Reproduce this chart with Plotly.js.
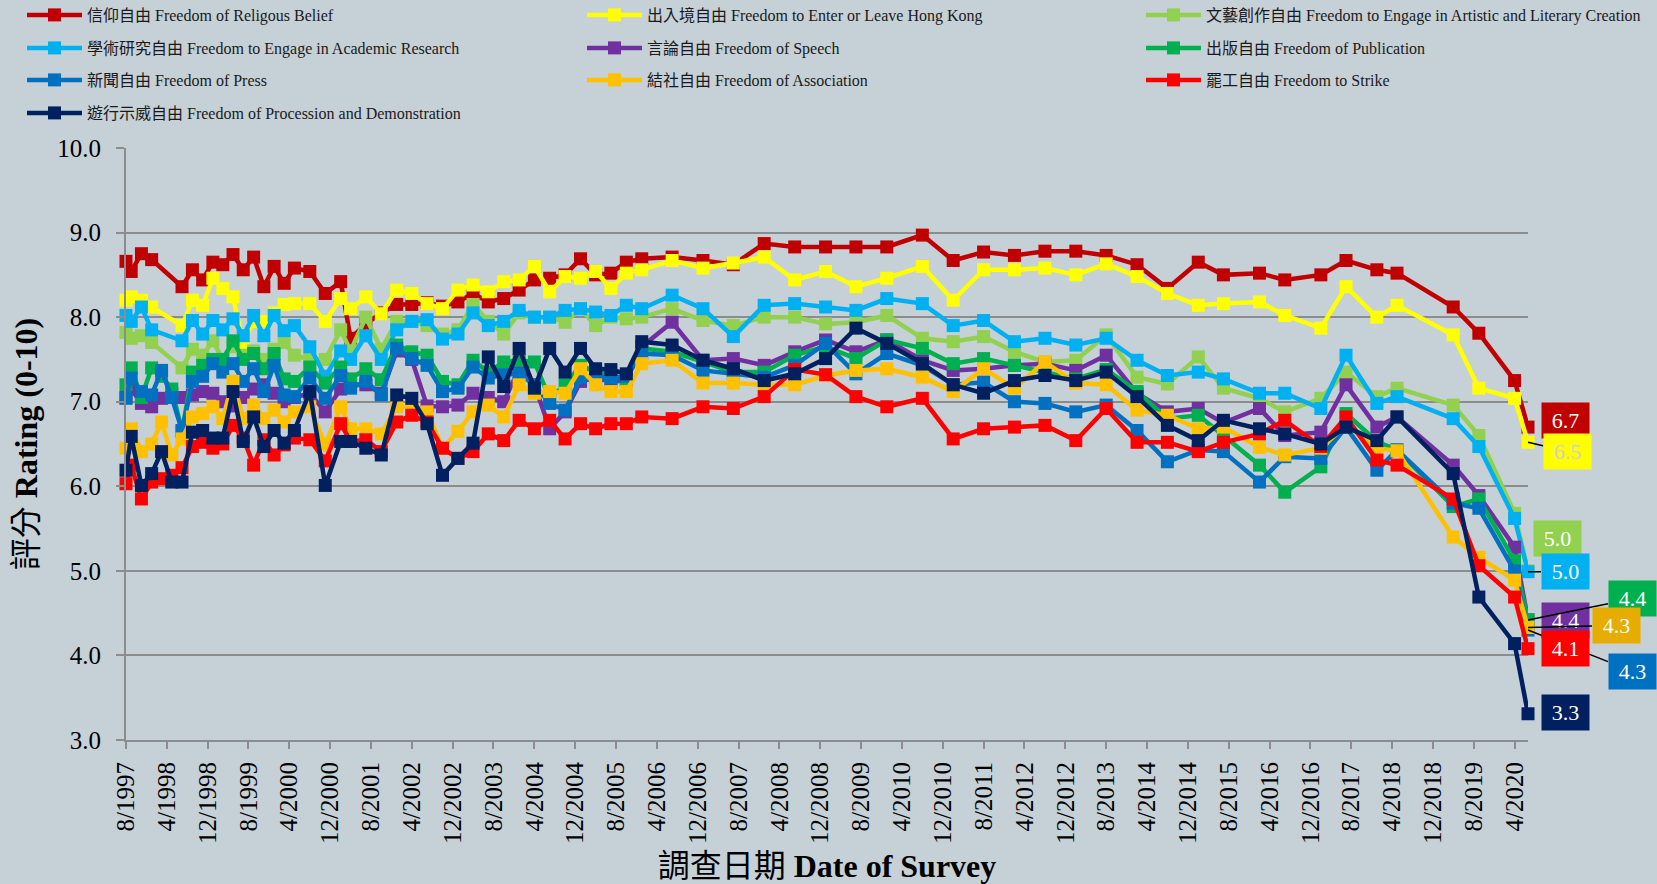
<!DOCTYPE html>
<html><head><meta charset="utf-8">
<script src="https://cdn.plot.ly/plotly-3.0.1.min.js"></script>
<style>html,body{margin:0;padding:0;background:#C6D0D7;} #chart{width:1657px;height:884px;}</style>
</head><body><div id="chart"></div>
<script>
const surveyDates = ['1997-08','1997-09','1997-11','1998-01','1998-03','1998-05','1998-07','1998-09','1998-11','1999-01','1999-03','1999-05','1999-07','1999-09','1999-11','2000-01','2000-03','2000-05','2000-08','2000-11','2001-02','2001-04','2001-07','2001-10','2002-01','2002-04','2002-07','2002-10','2003-01','2003-04','2003-07','2003-10','2004-01','2004-04','2004-07','2004-10','2005-01','2005-04','2005-07','2005-10','2006-01','2006-07','2007-01','2007-07','2008-01','2008-07','2009-01','2009-07','2010-01','2010-08','2011-02','2011-08','2012-02','2012-08','2013-02','2013-08','2014-02','2014-08','2015-02','2015-07','2016-02','2016-07','2017-02','2017-07','2018-01','2018-05','2019-04','2019-09','2020-04','2020-06-20'];

const religious   = [8.66,8.54,8.75,8.68,null,null,8.36,8.56,8.44,8.65,8.62,8.74,8.56,8.71,8.36,8.6,8.4,8.58,8.54,8.28,8.42,7.75,7.92,8.05,8.15,8.15,8.17,8.13,8.18,8.28,8.18,8.22,8.32,8.44,8.46,8.5,8.69,8.5,8.52,8.65,8.69,8.71,8.67,8.62,8.87,8.83,8.83,8.83,8.83,8.97,8.67,8.77,8.73,8.78,8.78,8.73,8.62,8.34,8.65,8.5,8.52,8.44,8.5,8.67,8.56,8.52,8.12,7.81,7.25,6.7];
const enterLeave  = [8.2,8.24,8.2,8.12,null,null,7.9,8.2,8.14,8.46,8.34,8.24,7.7,7.95,7.95,8.05,8.15,8.16,8.16,7.95,8.22,8.1,8.24,8.04,8.32,8.28,8.16,8.1,8.32,8.38,8.3,8.42,8.44,8.6,8.3,8.48,8.46,8.54,8.34,8.52,8.56,8.67,8.58,8.64,8.71,8.44,8.54,8.36,8.46,8.6,8.2,8.56,8.56,8.58,8.5,8.63,8.48,8.28,8.14,8.16,8.18,8.02,7.87,8.36,8.0,8.14,7.79,7.16,7.04,6.52];
const artistic    = [7.82,7.75,7.78,7.7,null,null,7.4,7.62,7.55,7.72,7.5,7.65,7.55,7.6,7.5,7.62,7.7,7.55,7.5,7.5,7.85,7.6,8.0,7.62,7.95,7.95,7.9,7.8,7.85,8.15,7.95,7.8,8.05,8.0,8.0,7.94,8.1,7.9,8.0,7.98,8.0,8.1,7.96,7.9,8.0,8.0,7.92,7.94,8.02,7.75,7.71,7.77,7.59,7.47,7.49,7.79,7.29,7.21,7.53,7.16,7.04,6.88,7.04,7.35,7.06,7.16,6.96,6.6,5.68,5.0];
const academic    = [8.02,7.95,8.12,7.85,null,null,7.72,7.96,7.8,7.96,7.85,7.98,7.78,8.02,7.78,8.02,7.84,7.9,7.65,7.3,7.6,7.5,7.78,7.5,7.85,7.95,7.97,7.74,7.8,8.05,7.9,7.95,8.08,8.0,8.0,8.08,8.1,8.06,8.02,8.14,8.1,8.26,8.1,7.77,8.14,8.16,8.12,8.08,8.22,8.16,7.9,7.96,7.71,7.75,7.67,7.75,7.49,7.31,7.35,7.27,7.1,7.1,6.92,7.55,6.98,7.06,6.8,6.47,5.62,4.99];
const speech      = [7.05,7.15,6.98,6.94,7.04,7.1,7.05,7.08,7.12,7.1,7.0,6.95,7.05,7.15,7.2,7.1,7.0,7.05,7.1,6.88,7.15,7.2,7.2,7.1,7.6,7.5,6.95,6.94,6.96,7.1,7.05,7.0,7.39,7.2,6.68,6.88,7.24,7.28,7.24,7.25,7.65,7.94,7.49,7.51,7.43,7.59,7.73,7.59,7.73,7.49,7.37,7.39,7.43,7.45,7.37,7.55,7.1,6.88,6.92,6.75,6.92,6.6,6.64,7.2,6.7,6.82,6.25,5.89,5.28,4.42];
const publication = [7.2,7.4,7.05,7.4,7.3,7.15,6.65,7.35,7.43,7.5,7.5,7.72,7.5,7.57,7.39,7.57,7.27,7.24,7.41,7.22,7.41,7.27,7.39,7.26,7.67,7.59,7.55,7.24,7.2,7.49,7.35,7.47,7.49,7.47,7.04,7.2,7.43,7.35,7.31,7.27,7.63,7.59,7.47,7.35,7.35,7.55,7.65,7.51,7.73,7.63,7.45,7.51,7.43,7.35,7.27,7.38,7.12,6.8,6.84,6.6,6.25,5.93,6.23,6.86,6.53,6.43,5.76,5.85,5.12,4.42];
const press       = [7.04,7.28,7.12,7.08,7.37,7.05,6.66,7.24,7.3,7.45,7.35,7.45,7.24,7.39,7.12,7.43,7.08,7.06,7.28,7.04,7.31,7.16,7.24,7.08,7.63,7.51,7.43,7.12,7.16,7.41,7.28,7.32,7.33,7.2,6.98,6.9,7.28,7.3,7.28,7.3,7.57,7.55,7.37,7.33,7.29,7.43,7.69,7.33,7.57,7.43,7.2,7.23,7.0,6.98,6.88,6.96,6.66,6.29,6.43,6.41,6.05,6.35,6.33,6.7,6.19,6.43,5.8,5.74,5.0,4.3];
const association = [6.45,6.68,6.41,6.5,6.76,6.37,6.56,6.82,6.86,6.94,6.8,7.24,6.8,6.96,6.8,6.9,6.76,6.88,6.94,6.49,6.94,6.68,6.68,6.62,6.94,6.94,6.88,6.45,6.65,6.88,6.96,6.82,7.2,7.1,7.12,7.1,7.39,7.2,7.12,7.12,7.45,7.49,7.22,7.22,7.2,7.2,7.31,7.37,7.39,7.29,7.12,7.39,7.16,7.47,7.22,7.2,6.9,6.84,6.68,6.7,6.46,6.37,6.45,6.72,6.45,6.42,5.4,5.16,4.89,4.33];
const strike      = [6.03,6.25,5.85,6.05,6.09,6.13,6.22,6.47,6.52,6.45,6.5,6.72,6.57,6.25,6.55,6.37,6.49,6.57,6.55,6.3,6.74,6.53,6.55,6.41,6.76,6.84,6.76,6.45,6.33,6.41,6.62,6.54,6.78,6.68,6.78,6.56,6.74,6.68,6.74,6.74,6.82,6.8,6.94,6.92,7.06,7.38,7.32,7.06,6.94,7.04,6.56,6.68,6.7,6.72,6.54,6.92,6.52,6.52,6.41,6.52,6.62,6.78,6.47,6.82,6.31,6.25,5.85,5.06,4.69,4.08];
const procession  = [6.19,6.59,6.01,6.15,6.41,6.05,6.05,6.64,6.66,6.57,6.57,7.12,6.53,6.82,6.47,6.66,6.51,6.66,7.12,6.01,6.53,6.53,6.45,6.37,7.08,7.04,6.74,6.13,6.33,6.51,7.53,7.18,7.63,7.16,7.63,7.35,7.63,7.39,7.38,7.33,7.71,7.67,7.49,7.39,7.25,7.33,7.51,7.87,7.69,7.45,7.2,7.1,7.25,7.31,7.25,7.35,7.06,6.72,6.54,6.78,6.68,6.62,6.5,6.7,6.54,6.82,6.15,4.69,4.14,3.31];

const seriesNames = ['信仰自由 Freedom of Religous Belief','出入境自由 Freedom to Enter or Leave Hong Kong','文藝創作自由 Freedom to Engage in Artistic and Literary Creation','學術研究自由 Freedom to Engage in Academic Research','言論自由 Freedom of Speech','出版自由 Freedom of Publication','新聞自由 Freedom of Press','結社自由 Freedom of Association','罷工自由 Freedom to Strike','遊行示威自由 Freedom of Procession and Demonstration'];

const tickDates = ['1997-08-01','1998-04-01','1998-12-01','1999-08-01','2000-04-01','2000-12-01','2001-08-01','2002-04-01','2002-12-01','2003-08-01','2004-04-01','2004-12-01','2005-08-01','2006-04-01','2006-12-01','2007-08-01','2008-04-01','2008-12-01','2009-08-01','2010-04-01','2010-12-01','2011-08-01','2012-04-01','2012-12-01','2013-08-01','2014-04-01','2014-12-01','2015-08-01','2016-04-01','2016-12-01','2017-08-01','2018-04-01','2018-12-01','2019-08-01','2020-04-01'];
const tickLabels = ['8/1997','4/1998','12/1998','8/1999','4/2000','12/2000','8/2001','4/2002','12/2002','8/2003','4/2004','12/2004','8/2005','4/2006','12/2006','8/2007','4/2008','12/2008','8/2009','4/2010','12/2010','8/2011','4/2012','12/2012','8/2013','4/2014','12/2014','8/2015','4/2016','12/2016','8/2017','4/2018','12/2018','8/2019','4/2020'];

const allSeries = [religious, enterLeave, artistic, academic, speech, publication, press, association, strike, procession];

// styles
const colors = ['#C00000','#FFFF00','#92D050','#00B0F0','#7030A0','#00B050','#0070C0','#FFC000','#FF0000','#002060'];
const boxColors = ['#C00000','#FFFF00','#92D050','#00B0F0','#7030A0','#00B050','#0070C0','#E6AC00','#FF0000','#002060'];
const boxText = ['#FFFFFF','#D0D0D0','#FFFFFF','#FFFFFF','#FFFFFF','#FFFFFF','#FFFFFF','#FFFFFF','#FFFFFF','#FFFFFF'];
// legend slots: rows for columns 1-2, separate boxes for column 3
const legendOf = ['legend','legend','legend5','legend2','legend2','legend6','legend3','legend3','legend7','legend4'];
// label box offsets (px) from last point, and whether a leader line shows
const labelOff = [[37,-7,false],[39,9,true],[29,-32,false],[37,0,true],[37,1,false],[104,-21,true],[104,41,true],[88,-2,true],[37,0,false],[37,-1,false]];

const FONT = "'Liberation Serif','Times New Roman','Noto Sans CJK TC',serif";
const traces = allSeries.map((vals, i) => ({
  type: 'scatter', mode: 'lines+markers', x: surveyDates, y: vals, name: seriesNames[i],
  legend: legendOf[i], connectgaps: true, cliponaxis: false,
  line: {color: colors[i], width: 4.5},
  marker: {color: colors[i], symbol: 'square', size: 13},
  hoverinfo: 'skip'
}));

const lastIdx = surveyDates.length - 1;
const annotations = allSeries.map((vals, i) => ({
  x: surveyDates[lastIdx], y: vals[lastIdx], xref: 'x', yref: 'y',
  text: vals[lastIdx].toFixed(1), showarrow: true, arrowhead: 0, arrowwidth: 1.5,
  arrowcolor: labelOff[i][2] ? '#000000' : 'rgba(0,0,0,0)',
  ax: labelOff[i][0], ay: labelOff[i][1],
  bgcolor: boxColors[i], width: 43, height: 31, borderpad: 2,
  font: {family: FONT, size: 22, color: boxText[i]}
}));

function legendCfg(xPx, yPx) {
  return {orientation: 'h', xref: 'container', yref: 'container', x: xPx/1657, y: 1 - yPx/884,
    xanchor: 'left', yanchor: 'middle', entrywidth: 490, entrywidthmode: 'pixels', itemwidth: 55,
    bgcolor: 'rgba(0,0,0,0)', font: {family: FONT, size: 16, color: '#1a1a1a'}, traceorder: 'normal'};
}

const layout = {
  width: 1657, height: 884,
  paper_bgcolor: '#C6D0D7', plot_bgcolor: '#C6D0D7',
  margin: {l: 126, r: 129, t: 148, b: 144, autoexpand: false},
  showlegend: true,
  legend: legendCfg(22, 15), legend2: legendCfg(22, 48), legend3: legendCfg(22, 80), legend4: legendCfg(22, 113),
  legend5: legendCfg(1141, 15), legend6: legendCfg(1141, 48), legend7: legendCfg(1141, 80),
  xaxis: {type: 'date', range: ['1997-08-01', '2020-06-20'], tickvals: tickDates, ticktext: tickLabels,
    tickangle: -90, ticks: 'outside', ticklen: 7, tickwidth: 2, tickcolor: '#8C8C8C',
    showgrid: false, zeroline: false, showline: true, linecolor: '#8C8C8C', linewidth: 2,
    tickfont: {family: FONT, size: 25, color: '#000'}, ticklabelstandoff: 3, automargin: false,
    title: {text: '調查日期 <b>Date of Survey</b>', font: {family: FONT, size: 32, color: '#000'}, standoff: 12}},
  yaxis: {range: [3, 10], dtick: 1, tick0: 3, tickformat: '.1f', ticks: 'outside', ticklen: 8, tickwidth: 2, tickcolor: '#8C8C8C',
    showgrid: true, gridcolor: '#8C8C8C', gridwidth: 2, zeroline: false, showline: true, linecolor: '#8C8C8C', linewidth: 2,
    tickfont: {family: FONT, size: 25, color: '#000'}, ticklabelstandoff: 10, automargin: false,
    title: {text: '評分 <b>Rating (0-10)</b>', font: {family: FONT, size: 32, color: '#000'}, standoff: 10}},
  annotations: annotations
};

Plotly.newPlot('chart', traces, layout, {displayModeBar: false, staticPlot: true});
</script></body></html>
